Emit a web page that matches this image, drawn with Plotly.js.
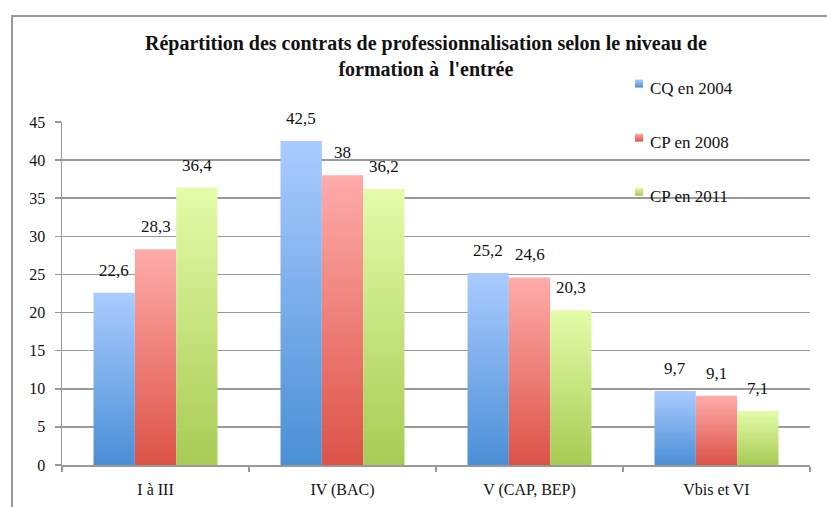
<!DOCTYPE html>
<html>
<head>
<meta charset="utf-8">
<script src="https://cdn.plot.ly/plotly-3.0.1.min.js"></script>
<style>
html,body{margin:0;padding:0;background:#fff;}
#frame{position:absolute;left:11px;top:15px;width:830px;height:500px;border-left:2px solid #999;border-top:2px solid #999;}
#chart{position:absolute;left:0;top:0;width:827px;height:507px;}
</style>
</head>
<body>
<div id="frame"></div>
<div id="chart"></div>
<script>
const categories = ["I à III", "IV (BAC)", "V (CAP, BEP)", "Vbis et VI"];
const seriesNames = ["CQ en 2004", "CP en 2008", "CP en 2011"];
const cq2004 = [22.6, 42.5, 25.2, 9.7];
const cp2008 = [28.3, 38, 24.6, 9.1];
const cp2011 = [36.4, 36.2, 20.3, 7.1];
const yTicks = [0, 5, 10, 15, 20, 25, 30, 35, 40, 45];

const seriesValues = [cq2004, cp2008, cp2011];
const baseColors = ["#6fa3e6", "#ec7c75", "#c6e281"];
const gradStops = [
  ["#aacbff", "#4a8fd6"],
  ["#ffacaa", "#dc5247"],
  ["#e4fcaa", "#a7cb54"]
];

const serif = "Liberation Serif";
const bargap = 0.337;
const margin = {l: 62, r: 17, t: 122, b: 42};
const plotW = 827 - margin.l - margin.r;
const barPx = (plotW / categories.length) * (1 - bargap) / seriesNames.length;

const fmt = v => String(v).replace(".", ",");

const traces = seriesValues.map((vals, i) => ({
  type: "bar",
  name: seriesNames[i],
  x: categories,
  y: vals,
  legendgroup: "g" + i,
  marker: {color: baseColors[i], line: {width: 0}},
  hoverinfo: "skip"
}));

const annotations = [];
seriesValues.forEach((vals, s) => {
  vals.forEach((v, c) => {
    annotations.push({
      x: categories[c], y: v, xref: "x", yref: "y",
      text: fmt(v), showarrow: false,
      xshift: (s - 1) * barPx, yshift: 11,
      yanchor: "bottom", xanchor: "center",
      font: {family: serif, size: 17, color: "#111"}
    });
  });
});

const layout = {
  width: 827, height: 507,
  margin: margin,
  font: {family: serif, color: "#111"},
  paper_bgcolor: "rgba(0,0,0,0)",
  plot_bgcolor: "rgba(0,0,0,0)",
  barmode: "group",
  bargap: bargap,
  bargroupgap: 0,
  showlegend: true,
  title: {
    text: "Répartition des contrats de professionnalisation selon le niveau de<br>formation à  l'entrée",
    font: {family: serif, size: 20, color: "#111", weight: "bold"},
    x: 0.515, xref: "container", xanchor: "center",
    y: 1 - 50 / 507, yref: "container", yanchor: "top"
  },
  legend: {
    x: (610 - margin.l) / plotW, xanchor: "left",
    y: (465 - 70) / 343, yanchor: "top",
    bgcolor: "rgba(0,0,0,0)",
    font: {family: serif, size: 17, color: "#111"},
    tracegroupgap: 29,
    itemclick: false, itemdoubleclick: false
  },
  xaxis: {
    type: "category",
    showline: true, linecolor: "#999", linewidth: 1.5,
    ticks: "outside", tickson: "boundaries", ticklen: 5, tickcolor: "#999", tickwidth: 1.5,
    ticklabelstandoff: 9,
    tickfont: {family: serif, size: 16, color: "#111"},
    showgrid: false, zeroline: false,
    fixedrange: true
  },
  yaxis: {
    range: [0, 45],
    tickvals: yTicks,
    ticktext: yTicks.map(String),
    showline: true, linecolor: "#999", linewidth: 1.5,
    ticks: "outside", ticklen: 6, tickcolor: "#999", tickwidth: 1.5,
    ticklabelstandoff: 6,
    tickfont: {family: serif, size: 16, color: "#111"},
    showgrid: true, gridcolor: "#999", gridwidth: 1.5,
    zeroline: false,
    fixedrange: true
  },
  annotations: annotations
};

function applyGradients(gd) {
  const svg = gd.querySelector("svg.main-svg");
  if (!svg) return;
  const ns = "http://www.w3.org/2000/svg";
  let defs = svg.querySelector("defs");
  if (!defs) { defs = document.createElementNS(ns, "defs"); svg.insertBefore(defs, svg.firstChild); }
  gradStops.forEach((st, i) => {
    const g = document.createElementNS(ns, "linearGradient");
    g.setAttribute("id", "barGrad" + i);
    g.setAttribute("x1", "0"); g.setAttribute("y1", "0");
    g.setAttribute("x2", "0"); g.setAttribute("y2", "1");
    const s1 = document.createElementNS(ns, "stop");
    s1.setAttribute("offset", "0"); s1.setAttribute("stop-color", st[0]);
    const s2 = document.createElementNS(ns, "stop");
    s2.setAttribute("offset", "1"); s2.setAttribute("stop-color", st[1]);
    g.appendChild(s1); g.appendChild(s2);
    defs.appendChild(g);
  });
  const barTraces = gd.querySelectorAll(".barlayer .trace.bars");
  barTraces.forEach((t, i) => {
    t.querySelectorAll(".point path").forEach(p => {
      p.style.fill = "url(#barGrad" + i + ")";
    });
  });
  const legendPts = gd.querySelectorAll(".legend .traces .legendpoints");
  legendPts.forEach((lp, i) => {
    lp.querySelectorAll("path").forEach(p => {
      p.setAttribute("d", "M4,4H-4V-4H4Z");
      p.style.fill = "url(#barGrad" + i + ")";
      p.setAttribute("transform", "translate(29,-4)");
    });
  });
}

Plotly.newPlot("chart", traces, layout, {staticPlot: true, displayModeBar: false})
  .then(gd => applyGradients(gd));
</script>
</body>
</html>
